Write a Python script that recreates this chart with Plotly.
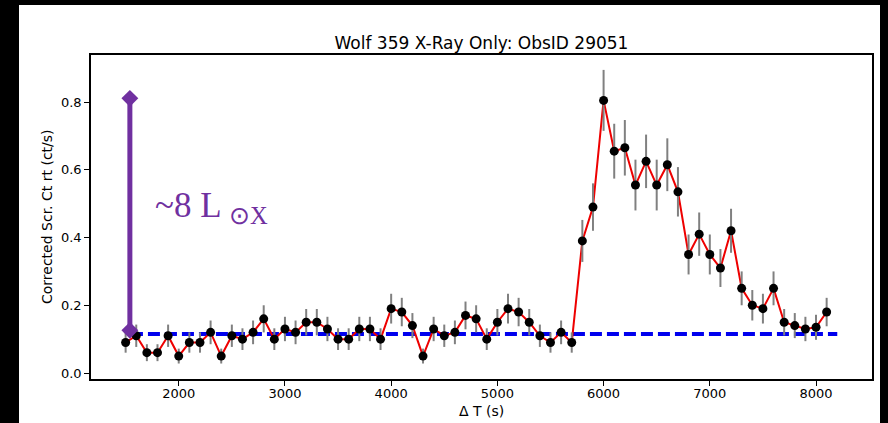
import plotly.graph_objects as go

# ---- data ----
time_s = [1500, 1600, 1700, 1800, 1900, 2000, 2100, 2200, 2300, 2400,
          2500, 2600, 2700, 2800, 2900, 3000, 3100, 3200, 3300, 3400,
          3500, 3600, 3700, 3800, 3900, 4000, 4100, 4200, 4300, 4400,
          4500, 4600, 4700, 4800, 4900, 5000, 5100, 5200, 5300, 5400,
          5500, 5600, 5700, 5800, 5900, 6000, 6100, 6200, 6300, 6400,
          6500, 6600, 6700, 6800, 6900, 7000, 7100, 7200, 7300, 7400,
          7500, 7600, 7700, 7800, 7900, 8000, 8100]
rate = [0.09, 0.11, 0.06, 0.06, 0.11, 0.05, 0.09, 0.09, 0.12, 0.05,
        0.11, 0.10, 0.12, 0.16, 0.10, 0.13, 0.12, 0.15, 0.15, 0.13,
        0.10, 0.10, 0.13, 0.13, 0.10, 0.19, 0.18, 0.14, 0.05, 0.13,
        0.11, 0.12, 0.17, 0.16, 0.10, 0.15, 0.19, 0.18, 0.15, 0.11,
        0.09, 0.12, 0.09, 0.39, 0.49, 0.805, 0.655, 0.665, 0.555, 0.625,
        0.555, 0.615, 0.535, 0.35, 0.41, 0.35, 0.31, 0.42, 0.25, 0.20,
        0.19, 0.25, 0.15, 0.14, 0.13, 0.135, 0.18]
rate_err = [0.030, 0.033, 0.025, 0.025, 0.033, 0.022, 0.030, 0.030, 0.035, 0.022,
            0.033, 0.032, 0.035, 0.040, 0.032, 0.036, 0.035, 0.039, 0.039, 0.036,
            0.032, 0.032, 0.036, 0.036, 0.032, 0.044, 0.042, 0.037, 0.022, 0.036,
            0.033, 0.035, 0.041, 0.040, 0.032, 0.039, 0.044, 0.042, 0.039, 0.033,
            0.030, 0.035, 0.030, 0.062, 0.070, 0.090, 0.081, 0.082, 0.075, 0.079,
            0.075, 0.078, 0.073, 0.059, 0.064, 0.059, 0.056, 0.065, 0.050, 0.045,
            0.044, 0.050, 0.039, 0.037, 0.036, 0.037, 0.042]
baseline_x = [1550, 8200]
baseline_y = [0.115, 0.115]
flare_x = [1540, 1540]
flare_y = [0.126, 0.811]
x_ticks = [2000, 3000, 4000, 5000, 6000, 7000, 8000]
y_ticks = [0.0, 0.2, 0.4, 0.6, 0.8]
title_text = "Wolf 359 X-Ray Only: ObsID 29051"
x_label = "Δ T (s)"
y_label = "Corrected Scr. Ct rt (ct/s)"
flare_label = "~8 L <sub>⊙X</sub>"

PURPLE = "#7030a0"
FONT = "DejaVu Sans"

fig = go.Figure()

fig.add_trace(go.Scatter(
    x=baseline_x, y=baseline_y, mode="lines",
    line=dict(color="#0000ee", width=4, dash="12px,5px"),
    hoverinfo="skip", showlegend=False))

fig.add_trace(go.Scatter(
    x=time_s, y=rate, mode="lines",
    line=dict(color="#ee0000", width=2),
    showlegend=False))

fig.add_trace(go.Scatter(
    x=time_s, y=rate, mode="markers",
    marker=dict(color="black", size=9),
    error_y=dict(type="data", array=rate_err, visible=True,
                 color="#808080", thickness=2, width=0),
    showlegend=False))

fig.add_trace(go.Scatter(
    x=flare_x, y=flare_y, mode="lines+markers",
    line=dict(color=PURPLE, width=5),
    marker=dict(symbol="diamond", size=13, color=PURPLE),
    showlegend=False))

# plot geometry in pixels
L, R, T, B = 91, 16, 55, 44
W, H = 888, 423
pw, ph = W - L - R, H - T - B

def px2paper_x(px):
    return (px - L) / pw

def py2paper_y(py):
    return (H - B - py) / ph

# white figure area framed by black
fig.add_shape(type="rect", xref="paper", yref="paper",
              x0=px2paper_x(19), x1=px2paper_x(880),
              y0=py2paper_y(424), y1=py2paper_y(5),
              fillcolor="white", line=dict(width=0), layer="below")

fig.add_annotation(x=1755, y=0.49, xref="x", yref="y", text=flare_label,
                   showarrow=False, xanchor="left", yanchor="middle",
                   font=dict(family="Liberation Serif", size=35, color=PURPLE))

fig.add_annotation(x=px2paper_x(47), y=0.5, xref="paper", yref="paper",
                   text=y_label, textangle=-90, showarrow=False,
                   xanchor="center", yanchor="middle",
                   font=dict(family=FONT, size=14, color="black"))
fig.add_annotation(x=0.5, y=py2paper_y(411), xref="paper", yref="paper",
                   text=x_label, showarrow=False,
                   xanchor="center", yanchor="middle",
                   font=dict(family=FONT, size=14, color="black"))

fig.update_layout(
    width=W, height=H,
    margin=dict(l=L, r=R, t=T, b=B),
    paper_bgcolor="black", plot_bgcolor="white",
    title=dict(text=title_text, x=481.5 / W,
               xanchor="center", y=1 - 43 / H, yanchor="middle",
               font=dict(family=FONT, size=17, color="black")),
    font=dict(family=FONT, size=13, color="black"),
    xaxis=dict(range=[1174, 8527], tickvals=x_ticks,
               ticktext=[str(v) for v in x_ticks],
               showgrid=False, zeroline=False,
               showline=True, linecolor="black", linewidth=1.5, mirror=True,
               ticks="outside", ticklen=5, tickwidth=1.2, tickcolor="black",
               ticklabelstandoff=-3,
               tickfont=dict(family=FONT, size=13, color="black")),
    yaxis=dict(range=[-0.0177, 0.939], tickvals=y_ticks,
               ticktext=["0.0", "0.2", "0.4", "0.6", "0.8"],
               showgrid=False, zeroline=False,
               showline=True, linecolor="black", linewidth=1.5, mirror=True,
               ticks="outside", ticklen=5, tickwidth=1.2, tickcolor="black",
               tickfont=dict(family=FONT, size=13, color="black")),
)

fig.write_html("out.html",
               config={"displayModeBar": False},
               post_script="document.body.style.margin='0';"
                           "document.body.style.overflow='hidden';")
